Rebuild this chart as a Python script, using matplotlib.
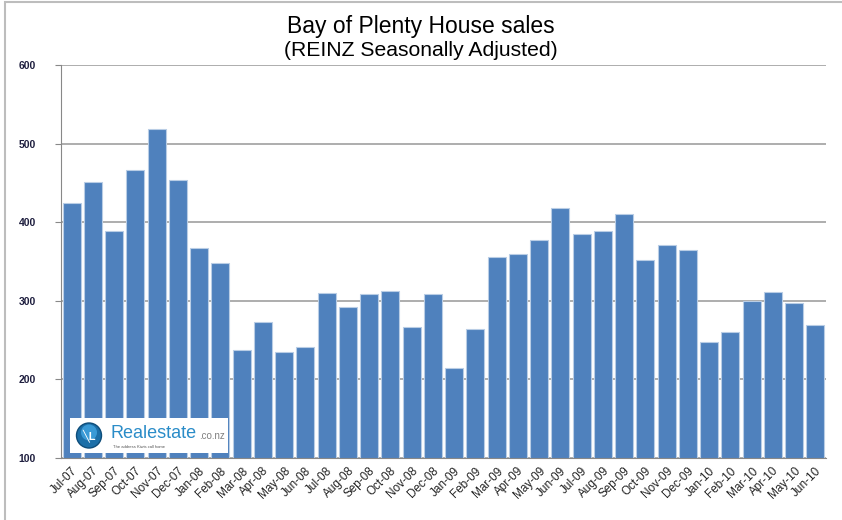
import matplotlib
matplotlib.use("Agg")
import matplotlib.pyplot as plt
from matplotlib.patches import Rectangle, Circle
import numpy as np

plt.rcParams['font.family'] = ['Liberation Sans', 'DejaVu Sans']

months = ["Jul-07", "Aug-07", "Sep-07", "Oct-07", "Nov-07", "Dec-07",
          "Jan-08", "Feb-08", "Mar-08", "Apr-08", "May-08", "Jun-08",
          "Jul-08", "Aug-08", "Sep-08", "Oct-08", "Nov-08", "Dec-08",
          "Jan-09", "Feb-09", "Mar-09", "Apr-09", "May-09", "Jun-09",
          "Jul-09", "Aug-09", "Sep-09", "Oct-09", "Nov-09", "Dec-09",
          "Jan-10", "Feb-10", "Mar-10", "Apr-10", "May-10", "Jun-10"]
sales = [425, 451, 389, 467, 518, 454,
         367, 348, 238, 273, 235, 241,
         310, 292, 309, 312, 267, 309,
         215, 264, 356, 359, 377, 418,
         385, 389, 411, 352, 371, 365,
         248, 260, 300, 311, 297, 269]
yticks = [100, 200, 300, 400, 500, 600]

fig = plt.figure(figsize=(8.42, 5.20), dpi=100)
ax = fig.add_axes([61/842, 1 - 458/520, (826 - 61)/842, (458 - 65)/520])

x = np.arange(len(months))
ax.bar(x, sales, width=0.84, color="#4F81BD", edgecolor="#B9CDE5",
       linewidth=0.8, zorder=3)
ax.set_ylim(100, 600)
ax.set_xlim(-0.5, len(months) - 0.5)
ax.set_yticks(yticks)
ax.set_yticklabels([str(v) for v in yticks], fontsize=7.5, fontweight="bold",
                   color="#1F1F3F")
ax.set_xticks(x)
ax.set_xticklabels(months, rotation=45, ha="right", rotation_mode="anchor",
                   fontsize=8.5, color="#222222")
ax.tick_params(axis="x", length=0, pad=5)
ax.tick_params(axis="y", length=4, color="#888888", direction="out", pad=14)
ax.grid(axis="y", color="#A0A0A0", linewidth=1.2, zorder=0)
for s in ["top", "right"]:
    ax.spines[s].set_visible(False)
ax.spines["left"].set_color("#888888")
ax.spines["bottom"].set_color("#888888")
ax.spines["left"].set_zorder(4)
ax.spines["bottom"].set_zorder(4)

# titles
fig.text(0.5, 1 - 26/520, "Bay of Plenty House sales", ha="center", va="center",
         fontsize=16.5, color="#000000")
fig.text(0.5, 1 - 51/520, "(REINZ Seasonally Adjusted)", ha="center", va="center",
         fontsize=15.2, color="#000000")

# outer chart border
fig.patches.append(Rectangle((5/842, -0.05), 1.2, 1 - 2/520 + 0.05,
                             transform=fig.transFigure, fill=False,
                             edgecolor="#BDBDBD", linewidth=1.5))

# logo box
lx0, ly0, lw, lh = 70/842, 1 - 453/520, 158/842, 35/520
lax = fig.add_axes([lx0, ly0, lw, lh], zorder=10)
lax.set_xlim(0, 158)
lax.set_ylim(0, 35)
lax.axis("off")
lax.add_patch(Rectangle((0, 0), 158, 35, facecolor="white", edgecolor="none",
                        zorder=0))
lax.add_patch(Circle((19, 17.5), 12.5, facecolor="#1C6FA8", edgecolor="#0E4D7A",
                     linewidth=1, zorder=1))
lax.add_patch(Circle((19, 20.5), 8, facecolor="#3A9AD6", edgecolor="none",
                     zorder=2))
lax.text(19, 17, "\u2572L", ha="center", va="center", fontsize=8,
         color="white", fontweight="bold", zorder=3)
lax.text(41, 19, "Realestate", ha="left", va="center", fontsize=13,
         color="#2A8CC8", zorder=3)
lax.text(129, 17, ".co.nz", ha="left", va="center", fontsize=7,
         color="#7F7F7F", zorder=3)
lax.text(43, 6, "The address Kiwis call home", ha="left", va="center",
         fontsize=3, color="#555555", zorder=3)

fig.savefig("out.png", dpi=100)
